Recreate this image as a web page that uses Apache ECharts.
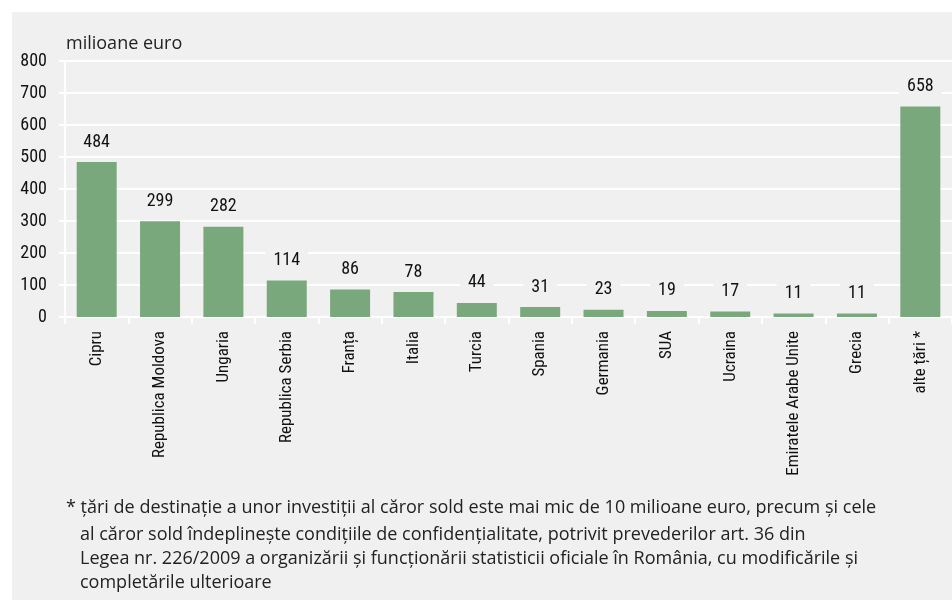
<!DOCTYPE html>
<html><head><meta charset="utf-8">
<script src="https://cdn.jsdelivr.net/npm/echarts@6/dist/echarts.min.js"></script>
<style>html,body{margin:0;padding:0;background:#fff}#c{width:952px;height:600px}</style>
</head><body><div id="c"></div>
<script>
const categories = ['Cipru','Republica Moldova','Ungaria','Republica Serbia','Franța','Italia','Turcia','Spania','Germania','SUA','Ucraina','Emiratele Arabe Unite','Grecia','alte țări *'];
const values = [484,299,282,114,86,78,44,31,23,19,17,11,11,658];
const yTicks = {min:0, max:800, interval:100};
const unitLabel = 'milioane euro';
const footnoteFirst = '* țări de destinație a unor investiții al căror sold este mai mic de 10 milioane euro, precum și cele';
const footnoteRest = ['al căror sold îndeplinește condițiile de confidențialitate, potrivit prevederilor art. 36 din',
  'Legea nr. 226/2009 a organizării și funcționării statisticii oficiale în România, cu modificările și',
  'completările ulterioare'];
const BG = '#f0f0f0';
const narrow = '"Liberation Sans Narrow","Roboto Condensed","DejaVu Sans Condensed",sans-serif';
const chart = echarts.init(document.getElementById('c'));
chart.setOption({
  backgroundColor:'#fff',
  animation:false,
  grid:{left:65, right:0, top:61, bottom:283, containLabel:false},
  graphic:[
    {type:'rect', shape:{x:12,y:12,width:940,height:588}, style:{fill:BG}, z:-10, silent:true},
    {type:'text', left:66, top:35, style:{text:unitLabel, font:'18px "Open Sans", sans-serif', fill:'#222'}},
    {type:'text', left:66, top:499, style:{text:footnoteFirst, font:'18px "Open Sans", sans-serif', fill:'#222'}},
    {type:'text', left:80, top:523, style:{text:footnoteRest.join('\n'), font:'18px "Open Sans", sans-serif', fill:'#222', lineHeight:24}}
  ],
  xAxis:{type:'category', data:categories,
    axisLine:{lineStyle:{color:'#fff', width:2}},
    axisTick:{show:true, length:7, lineStyle:{color:'#fff', width:2}},
    axisLabel:{rotate:90, margin:14, color:'#111', fontSize:17, fontFamily:narrow, interval:0}},
  yAxis:{type:'value', min:yTicks.min, max:yTicks.max, interval:yTicks.interval,
    axisLine:{show:true, lineStyle:{color:'#fff', width:2}},
    axisTick:{show:true, length:6, lineStyle:{color:'#fff', width:2}},
    splitLine:{lineStyle:{color:'#fff', width:2}},
    axisLabel:{color:'#111', fontSize:18, fontFamily:narrow, margin:18}},
  series:[{type:'bar', data:values, barWidth:40, itemStyle:{color:'#7aa87d'},
    label:{show:true, position:'top', distance:9, color:'#111', fontSize:18, fontFamily:narrow,
      backgroundColor:BG, padding:[2,8]}}]
});
</script></body></html>
